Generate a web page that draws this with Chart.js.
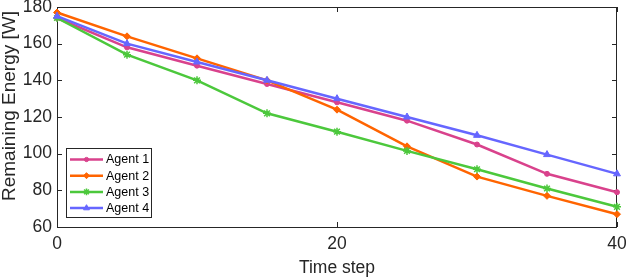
<!DOCTYPE html>
<html>
<head>
<meta charset="utf-8">
<script src="https://cdn.jsdelivr.net/npm/chart.js@4"></script>
<style>
  html, body { margin: 0; padding: 0; background: #fff; }
  #wrap { width: 626px; height: 280px; position: relative; }
</style>
</head>
<body>
<div id="wrap"><canvas id="energyChart"></canvas></div>
<script>
// dados
const timeSteps = [0, 5, 10, 15, 20, 25, 30, 35, 40];
const agent1 = [174, 158, 148, 138, 128, 118, 105, 89, 79];
const agent2 = [177, 164, 152, 140, 124, 104, 87.5, 77, 67];
const agent3 = [174, 154, 140, 122, 112, 101.5, 91.5, 81, 71];
const agent4 = [175, 160, 150, 140, 130, 120, 110, 99.5, 89];
const agentNames = ['Agent 1', 'Agent 2', 'Agent 3', 'Agent 4'];
const xTicks = [0, 20, 40];
const yTicks = [60, 80, 100, 120, 140, 160, 180];

const FONT = '"Liberation Sans", Arial, Helvetica, sans-serif';
const INK = '#262626';

// estilo de cada série
const styles = [
    { color: '#D9428C', marker: 'circle', radius: 2.5 },
    { color: '#FF6400', marker: 'rectRot', radius: 3.5 },
    { color: '#4CC83C', marker: 'star', radius: 4 },
    { color: '#6666FF', marker: 'triangle', radius: 4 }
];
const values = [agent1, agent2, agent3, agent4];

const datasets = values.map((vals, i) => ({
    label: agentNames[i],
    data: timeSteps.map((t, k) => ({ x: t, y: vals[k] })),
    borderColor: styles[i].color,
    backgroundColor: styles[i].color,
    borderWidth: 2.5,
    pointStyle: styles[i].marker,
    pointRadius: styles[i].radius,
    pointBorderWidth: styles[i].marker === 'star' ? 1.5 : 1,
    pointBackgroundColor: styles[i].color,
    pointBorderColor: styles[i].color,
    tension: 0,
    clip: false,
    order: values.length - i
}));

// caixa dos eixos com marcas para dentro (estilo MATLAB)
const axesBox = {
    id: 'axesBox',
    beforeDatasetsDraw(chart) {
        const { ctx, chartArea: a, scales: { x, y } } = chart;
        ctx.save();
        ctx.strokeStyle = INK;
        ctx.lineWidth = 1;
        ctx.strokeRect(a.left + 0.5, a.top + 0.5, a.right - a.left - 1, a.bottom - a.top);
        ctx.beginPath();
        xTicks.forEach(v => {
            const px = Math.round(x.getPixelForValue(v)) + 0.5;
            ctx.moveTo(px, a.bottom); ctx.lineTo(px, a.bottom - 5);
            ctx.moveTo(px, a.top); ctx.lineTo(px, a.top + 5);
        });
        yTicks.forEach(v => {
            const py = Math.round(y.getPixelForValue(v)) + 0.5;
            ctx.moveTo(a.left, py); ctx.lineTo(a.left + 5, py);
            ctx.moveTo(a.right, py); ctx.lineTo(a.right - 5, py);
        });
        ctx.stroke();

        // título do eixo y
        ctx.fillStyle = INK;
        ctx.font = '19px ' + FONT;
        ctx.textAlign = 'center';
        ctx.textBaseline = 'middle';
        ctx.translate(10, 106);
        ctx.rotate(-Math.PI / 2);
        ctx.fillText('Remaining Energy [W]', 0, 0);
        ctx.restore();
    }
};

// legenda dentro da área do gráfico
const innerLegend = {
    id: 'innerLegend',
    afterDraw(chart) {
        const { ctx } = chart;
        const box = { x: 66.5, y: 148.5, w: 85, h: 69 };
        ctx.save();
        ctx.fillStyle = '#fff';
        ctx.fillRect(box.x, box.y, box.w, box.h);
        ctx.strokeStyle = INK;
        ctx.lineWidth = 1;
        ctx.strokeRect(box.x, box.y, box.w, box.h);
        ctx.font = '12.5px ' + FONT;
        ctx.textBaseline = 'middle';
        ctx.textAlign = 'left';
        chart.data.datasets.forEach((ds, i) => {
            const yy = 159.5 + i * 16.2;
            ctx.strokeStyle = ds.borderColor;
            ctx.fillStyle = ds.borderColor;
            ctx.lineWidth = 2.5;
            ctx.beginPath();
            ctx.moveTo(70, yy); ctx.lineTo(103, yy);
            ctx.stroke();
            ctx.lineWidth = ds.pointBorderWidth;
            Chart.helpers.drawPoint(ctx, {
                pointStyle: ds.pointStyle,
                radius: ds.pointRadius * 0.85,
                borderWidth: ds.pointBorderWidth,
                rotation: 0
            }, 86.5, yy);
            ctx.fillStyle = '#000';
            ctx.fillText(ds.label, 106, yy + 0.5);
        });
        ctx.restore();
    }
};

new Chart(document.getElementById('energyChart'), {
    type: 'line',
    data: { datasets },
    plugins: [axesBox, innerLegend],
    options: {
        responsive: true,
        maintainAspectRatio: false,
        animation: false,
        layout: { padding: { left: 0, top: 7, right: 9, bottom: 0 } },
        plugins: {
            legend: { display: false },
            tooltip: { enabled: false }
        },
        scales: {
            x: {
                type: 'linear',
                min: 0,
                max: 40,
                afterBuildTicks: s => { s.ticks = xTicks.map(v => ({ value: v })); },
                afterFit: s => {
                    s.height = 53;
                    s.paddingLeft = 0; s.paddingRight = 0;
                },
                grid: { display: false, drawTicks: false },
                border: { display: false },
                ticks: {
                    color: INK,
                    padding: 7,
                    maxRotation: 0,
                    font: { family: FONT, size: 17.5 }
                },
                title: {
                    display: true,
                    text: 'Time step',
                    color: INK,
                    padding: { top: 0, bottom: 1 },
                    font: { family: FONT, size: 17.5 }
                }
            },
            y: {
                min: 60,
                max: 180,
                afterBuildTicks: s => { s.ticks = yTicks.map(v => ({ value: v })); },
                afterFit: s => {
                    s.width = 57;
                    s.paddingTop = 0; s.paddingBottom = 0;
                },
                grid: { display: false, drawTicks: false },
                border: { display: false },
                ticks: {
                    color: INK,
                    padding: 5,
                    font: { family: FONT, size: 17.5 }
                }
            }
        }
    }
});
</script>
</body>
</html>
